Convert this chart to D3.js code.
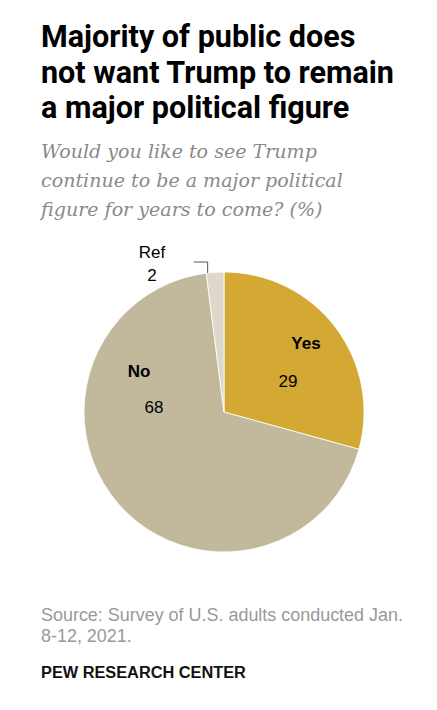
<!DOCTYPE html>
<html><head><meta charset="utf-8">
<script src="https://cdn.jsdelivr.net/npm/d3@7"></script>
<style>html,body{margin:0;padding:0;background:#fff;}</style>
</head><body>
<script>
const categories = ["Yes", "Ref", "No"];
const values = [29, 2, 68];
const order = ["Yes", "No", "Ref"];
const orderValues = [29, 68, 2];
const colors = {Yes: "#d3a833", No: "#c2b99d", Ref: "#ddd8ca"};
const titleLines = ["Majority of public does", "not want Trump to remain", "a major political figure"];
const subtitleLines = ["Would you like to see Trump", "continue to be a major political", "figure for years to come? (%)"];
const sourceLines = ["Source: Survey of U.S. adults conducted Jan.", "8-12, 2021."];
const credit = "PEW RESEARCH CENTER";

const W = 437, H = 710;
const svg = d3.select("body").append("svg").attr("width", W).attr("height", H);

function scaleGroup(texts, refIdx, target) {
  const len = texts[refIdx].node().getComputedTextLength();
  const fs = parseFloat(texts[refIdx].attr("font-size"));
  const nfs = fs * target / len;
  texts.forEach(t => t.attr("font-size", nfs));
}

const titleBase = [47, 83, 118];
const tTexts = titleLines.map((t, i) =>
  svg.append("text").attr("x", 41).attr("y", titleBase[i])
    .attr("font-family", "Roboto, 'Liberation Sans', Arial, sans-serif")
    .attr("font-weight", "bold").attr("font-size", 28).attr("fill", "#000").text(t));
scaleGroup(tTexts, 1, 353);

const subBase = [158, 187, 216];
const sTexts = subtitleLines.map((t, i) =>
  svg.append("text").attr("x", 41).attr("y", subBase[i])
    .attr("font-family", "'DejaVu Serif', Georgia, serif")
    .attr("font-style", "italic").attr("font-size", 19).attr("fill", "#8a8a8a").text(t));
scaleGroup(sTexts, 1, 302);

const cx = 224, cy = 412, r = 140;
const data = order.map((c, i) => ({cat: c, value: orderValues[i]}));
const pie = d3.pie().value(d => d.value).sort(null);
const arc = d3.arc().innerRadius(0).outerRadius(r);
const arcs = pie(data);
const pg = svg.append("g").attr("transform", `translate(${cx},${cy})`);
pg.selectAll("path").data(arcs).join("path")
  .attr("d", arc).attr("fill", d => colors[d.data.cat])
  .attr("stroke", "#fff").attr("stroke-width", 0.8);

const font = "Arial, 'Liberation Sans', sans-serif";
const fs = 17;
arcs.forEach(a => {
  const c = a.data.cat;
  if (c === "Yes") {
    pg.append("text").attr("x", 82).attr("y", -63).attr("text-anchor", "middle")
      .attr("font-family", font).attr("font-weight", "bold").attr("font-size", fs).attr("fill", "#000").text(c);
    pg.append("text").attr("x", 64).attr("y", -25).attr("text-anchor", "middle")
      .attr("font-family", font).attr("font-size", fs).attr("fill", "#000").text(a.data.value);
  } else if (c === "No") {
    pg.append("text").attr("x", -85).attr("y", -35).attr("text-anchor", "middle")
      .attr("font-family", font).attr("font-weight", "bold").attr("font-size", fs).attr("fill", "#000").text(c);
    pg.append("text").attr("x", -70).attr("y", 1).attr("text-anchor", "middle")
      .attr("font-family", font).attr("font-size", fs).attr("fill", "#000").text(a.data.value);
  } else {
    const ang = a.startAngle + 0.01;
    const px = r * Math.sin(ang), py = -r * Math.cos(ang);
    pg.append("path").attr("d", `M${px - 14},-150 L${px},-150 L${px},${py}`)
      .attr("fill", "none").attr("stroke", "#555").attr("stroke-width", 1);
    pg.append("text").attr("x", -72).attr("y", -154).attr("text-anchor", "middle")
      .attr("font-family", font).attr("font-size", fs).attr("fill", "#000").text(c);
    pg.append("text").attr("x", -72).attr("y", -131).attr("text-anchor", "middle")
      .attr("font-family", font).attr("font-size", fs).attr("fill", "#000").text(a.data.value);
  }
});

const srcBase = [621, 642];
const srcTexts = sourceLines.map((t, i) =>
  svg.append("text").attr("x", 41).attr("y", srcBase[i])
    .attr("font-family", font).attr("font-size", 15).attr("fill", "#999").text(t));
scaleGroup(srcTexts, 0, 362);
const cr = svg.append("text").attr("x", 41).attr("y", 678)
  .attr("font-family", font).attr("font-weight", "bold").attr("font-size", 14.5).attr("fill", "#111").text(credit);
scaleGroup([cr], 0, 205);
</script>
</body></html>
